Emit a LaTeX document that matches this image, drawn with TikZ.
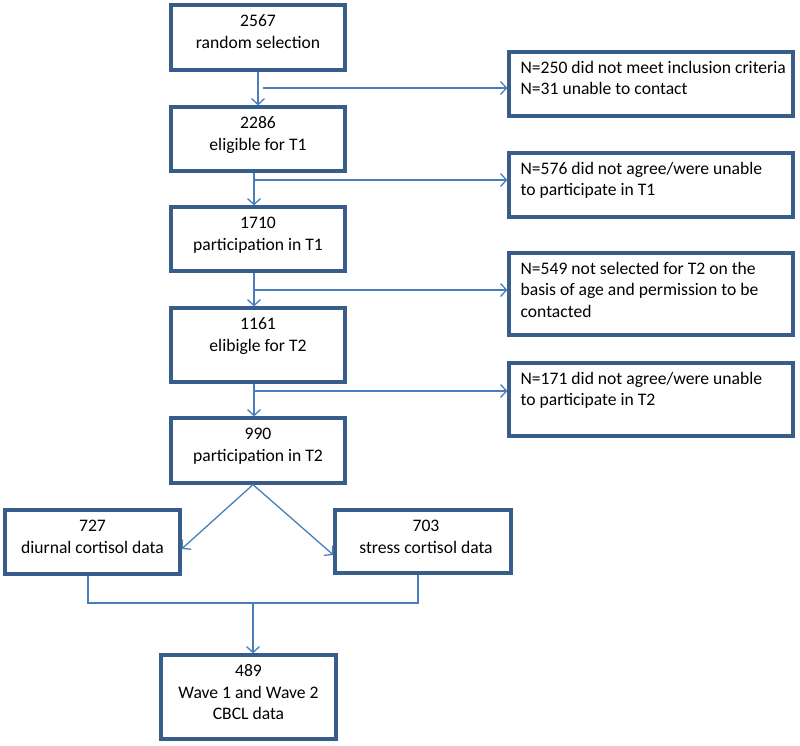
\documentclass[tikz,border=0pt]{standalone}
\usepackage{fontspec}
\setmainfont{Carlito}
\usetikzlibrary{arrows.meta}
\definecolor{boxc}{HTML}{385D8A}
\definecolor{linec}{HTML}{4A7EBB}
\begin{document}
\begin{tikzpicture}[x=1pt,y=-1pt,
  box/.style={draw=boxc, line width=3.2pt, inner sep=0pt, fill=white},
  txt/.style={font=\fontsize{17.6}{21.5}\selectfont, inner sep=0pt, anchor=north, align=center},
  stxt/.style={font=\fontsize{17.6}{21.5}\selectfont, inner sep=0pt, anchor=north west, align=left},
  conn/.style={draw=linec, line width=1.3pt},
  arr/.style={conn, -{Straight Barb[length=6pt,width=13pt,line width=1.3pt]}}]
\useasboundingbox (0,0) rectangle (800,745);
% main column
\node[box, minimum width=174pt, minimum height=65pt] (b1) at (258,37.5) {};
\node[box, minimum width=174pt, minimum height=64pt] (b2) at (258,139) {};
\node[box, minimum width=174pt, minimum height=64pt] (b3) at (258,239) {};
\node[box, minimum width=174pt, minimum height=74pt] (b4) at (258,345) {};
\node[box, minimum width=174pt, minimum height=65pt] (b5) at (258,450.5) {};
\node[box, minimum width=175pt, minimum height=64pt] (d) at (92.5,542) {};
\node[box, minimum width=176pt, minimum height=63pt] (s) at (423,541.5) {};
\node[box, minimum width=175pt, minimum height=84pt] (f) at (248.5,697) {};
% side boxes
\node[box, minimum width=284pt, minimum height=64pt] (s1) at (651,84) {};
\node[box, minimum width=284pt, minimum height=64pt] (s2) at (651,185) {};
\node[box, minimum width=284pt, minimum height=82pt] (s3) at (651,294) {};
\node[box, minimum width=284pt, minimum height=73pt] (s4) at (651,399.5) {};
% texts
\node[txt] (t1) at ([yshift=-8pt]b1.north) {\strut 2567\\random selection};
\node[txt] (t2) at ([yshift=-8pt]b2.north) {\strut 2286\\eligible for T1};
\node[txt] (t3) at ([yshift=-8pt]b3.north) {\strut 1710\\participation in T1};
\node[txt] (t4) at ([yshift=-8pt]b4.north) {\strut 1161\\elibigle for T2};
\node[txt] (t5) at ([yshift=-8pt]b5.north) {\strut 990\\participation in T2};
\node[txt] (td) at ([yshift=-8pt]d.north) {\strut 727\\diurnal cortisol data};
\node[txt] (ts) at ([xshift=3pt,yshift=-8pt]s.north) {\strut 703\\stress cortisol data};
\node[txt] (tf) at ([yshift=-8pt]f.north) {\strut 489\\Wave 1 and Wave 2\\CBCL data};
\node[stxt] (u1) at ([xshift=13pt,yshift=-7.5pt]s1.north west) {\strut N=250 did not meet inclusion criteria\\N=31 unable to contact};
\node[stxt] (u2) at ([xshift=13pt,yshift=-7.5pt]s2.north west) {\strut N=576 did not agree/were unable\\to participate in T1};
\node[stxt] (u3) at ([xshift=13pt,yshift=-7.5pt]s3.north west) {\strut N=549 not selected for T2 on the\\basis of age and permission to be\\contacted};
\node[stxt] (u4) at ([xshift=13pt,yshift=-7.5pt]s4.north west) {\strut N=171 did not agree/were unable\\to participate in T2};
% junction coordinates
\coordinate (j1) at (258,88);
\coordinate (j2) at (254,180);
\coordinate (j3) at (254,290);
\coordinate (j4) at (254,391);
\coordinate (jd) at (88,603);
\coordinate (js) at (418,603);
\coordinate (jm) at (253,603);
% vertical arrows
\draw[arr] (b1.south) -- (b2.north);
\draw[arr] (b2.south -| j2) -- (b3.north -| j2);
\draw[arr] (b3.south -| j3) -- (b4.north -| j3);
\draw[arr] (b4.south -| j4) -- (b5.north -| j4);
% side arrows
\draw[arr] ([xshift=5pt]j1) -- (j1 -| s1.west);
\draw[arr] (j2) -- (j2 -| s2.west);
\draw[arr] (j3) -- (j3 -| s3.west);
\draw[arr] (j4) -- (j4 -| s4.west);
% split
\draw[arr] (b5.south -| jm) -- ([yshift=-7pt]d.east);
\draw[arr] (b5.south -| jm) -- ([yshift=-13.5pt]s.west);
% merge
\draw[conn] (d.south -| jd) -- (jd) -- (js) -- (s.south -| js);
\draw[arr] (jm) -- (f.north -| jm);
\end{tikzpicture}
\end{document}
